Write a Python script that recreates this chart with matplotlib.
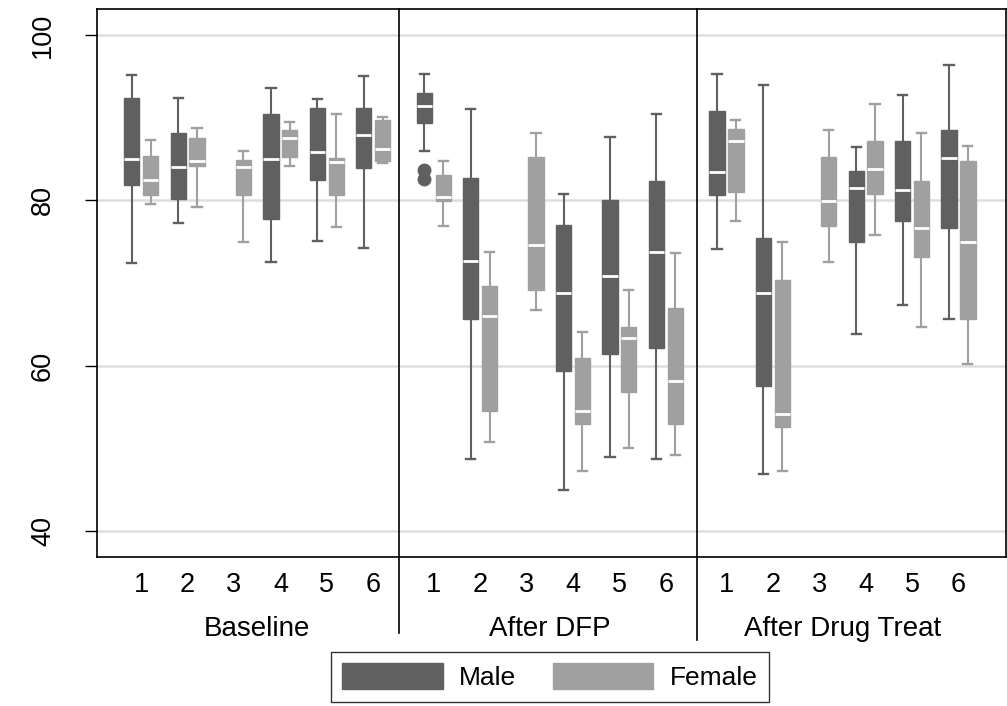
import matplotlib
matplotlib.use("Agg")
import matplotlib.pyplot as plt
import matplotlib.transforms as mtransforms
from matplotlib.patches import Patch
import numpy as np

plt.rcParams['font.family'] = ['Liberation Sans', 'DejaVu Sans']

periods = ["Baseline", "After DFP", "After Drug Treat"]
groups = ["1", "2", "3", "4", "5", "6"]
sexes = ["Male", "Female"]

# each row: [whisker low, q1, median, q3, whisker high]; None = no data
baseline_male = [[72.4, 81.8, 85.0, 92.4, 95.2], [77.3, 80.2, 84.0, 88.1, 92.4], None,
                 [72.6, 77.8, 85.0, 90.4, 93.6], [75.1, 82.5, 85.8, 91.2, 92.2], [74.2, 83.9, 87.9, 91.2, 95.0]]
baseline_female = [[79.5, 80.6, 82.5, 85.4, 87.3], [79.2, 84.1, 84.8, 87.5, 88.8], [75.0, 80.6, 84.0, 84.9, 86.0],
                   [84.2, 85.3, 87.6, 88.5, 89.5], [76.8, 80.6, 84.6, 85.1, 90.4], [84.5, 84.8, 86.2, 89.7, 90.1]]
dfp_male = [[86.0, 89.3, 91.4, 93.0, 95.3], [48.7, 65.7, 72.7, 82.7, 91.1], None,
            [45.0, 59.4, 68.8, 77.0, 80.8], [49.0, 61.4, 70.8, 80.0, 87.7], [48.7, 62.1, 73.8, 82.3, 90.4]]
dfp_female = [[76.9, 79.9, 80.4, 83.1, 84.8], [50.8, 54.5, 66.0, 69.6, 73.8], [66.7, 69.2, 74.6, 85.3, 88.2],
              [47.2, 53.0, 54.5, 60.9, 64.1], [50.1, 56.8, 63.3, 64.7, 69.1], [49.2, 53.0, 58.2, 67.0, 73.6]]
drug_male = [[74.1, 80.6, 83.4, 90.8, 95.3], [46.9, 57.6, 68.8, 75.5, 94.0], None,
             [63.8, 74.9, 81.5, 83.6, 86.4], [67.3, 77.5, 81.2, 87.2, 92.8], [65.7, 76.6, 85.1, 88.5, 96.4]]
drug_female = [[77.5, 81.0, 87.2, 88.6, 89.7], [47.2, 52.6, 54.1, 70.4, 75.0], [72.5, 76.9, 79.9, 85.3, 88.5],
               [75.8, 80.8, 83.8, 87.2, 91.7], [64.7, 73.2, 76.6, 82.3, 88.2], [60.2, 65.6, 75.0, 84.8, 86.6]]
# outliers: (period index, group index, sex index, values)
outliers = [(1, 0, 0, [83.7, 82.6])]

data = [[baseline_male, baseline_female], [dfp_male, dfp_female], [drug_male, drug_female]]

colors = ["#606060", "#a0a0a0"]

fig = plt.figure(figsize=(10.07, 7.06), dpi=100)
ax_top, ax_bot = 9, 557
ax = fig.add_axes([97/1007, (706-ax_bot)/706, 909/1007, (ax_bot-ax_top)/706])

gstride = 6.306
offs = [-0.203, 0.203]
bw = 0.33

for pi in range(3):
    for si in range(2):
        stats, pos = [], []
        for gi in range(6):
            row = data[pi][si][gi]
            if row is None:
                continue
            fl = []
            for (op, og, os_, vals) in outliers:
                if op == pi and og == gi and os_ == si:
                    fl = vals
            stats.append(dict(whislo=row[0], q1=row[1], med=row[2], q3=row[3], whishi=row[4], fliers=fl))
            pos.append(pi * gstride + (gi + 1) + offs[si])
        c = colors[si]
        ax.bxp(stats, positions=pos, widths=bw, patch_artist=True, showfliers=True,
               capwidths=0.2,
               boxprops=dict(facecolor=c, edgecolor=c, linewidth=1.0),
               whiskerprops=dict(color=c, linewidth=1.5),
               capprops=dict(color=c, linewidth=1.7),
               medianprops=dict(color="white", linewidth=2.0, solid_capstyle="butt"),
               flierprops=dict(marker="o", markerfacecolor=c, markeredgecolor=c, markersize=9),
               manage_ticks=False, zorder=3)

# y mapping: 100 -> px 35, 40 -> px 531
ppu = (531 - 35) / 60.0
ax.set_xlim(0.0474, 19.637)
ax.set_ylim(40 - (ax_bot - 531) / ppu, 100 + (35 - ax_top) / ppu)
ax.set_yticks([40, 60, 80, 100])
ax.set_yticklabels(["40", "60", "80", "100"], rotation=90, va="center", fontsize=19.5)
ax.tick_params(axis="y", length=8.6, width=1, direction="out", pad=21)
ax.set_xticks([])
for y in [40, 60, 80, 100]:
    ax.axhline(y, color="#dedede", linewidth=1.8, zorder=1)
for s in ax.spines.values():
    s.set_linewidth(1.2)
    s.set_color("black")

H = ax_bot - ax_top
trans = mtransforms.blended_transform_factory(ax.transData, ax.transAxes)
dividers = [(6.558, (ax_bot - 633) / H), (12.98, (ax_bot - 640) / H)]
for xd, yb in dividers:
    ax.plot([xd, xd], [1, yb], color="black", linewidth=1.2, transform=trans, clip_on=False, zorder=4)

for pi in range(3):
    for gi in range(6):
        ax.text(pi * gstride + gi + 1, (ax_bot - 591.5) / H, groups[gi], transform=trans,
                ha="center", va="baseline", fontsize=19.5)
    ax.text(pi * gstride + 3.5, (ax_bot - 635.5) / H, periods[pi], transform=trans,
            ha="center", va="baseline", fontsize=20)

handles = [Patch(facecolor=colors[0], edgecolor=colors[0]), Patch(facecolor=colors[1], edgecolor=colors[1])]
leg = fig.legend(handles, sexes, loc="lower center", bbox_to_anchor=(550/1007, 4/706), ncol=2,
                 fontsize=19, frameon=True, fancybox=False, edgecolor="black", handlelength=3.8,
                 handleheight=1.1, handletextpad=0.62, columnspacing=1.4, borderpad=0.45,
                 borderaxespad=0)
leg.get_frame().set_linewidth(1.0)

fig.savefig("out.png", dpi=100)
